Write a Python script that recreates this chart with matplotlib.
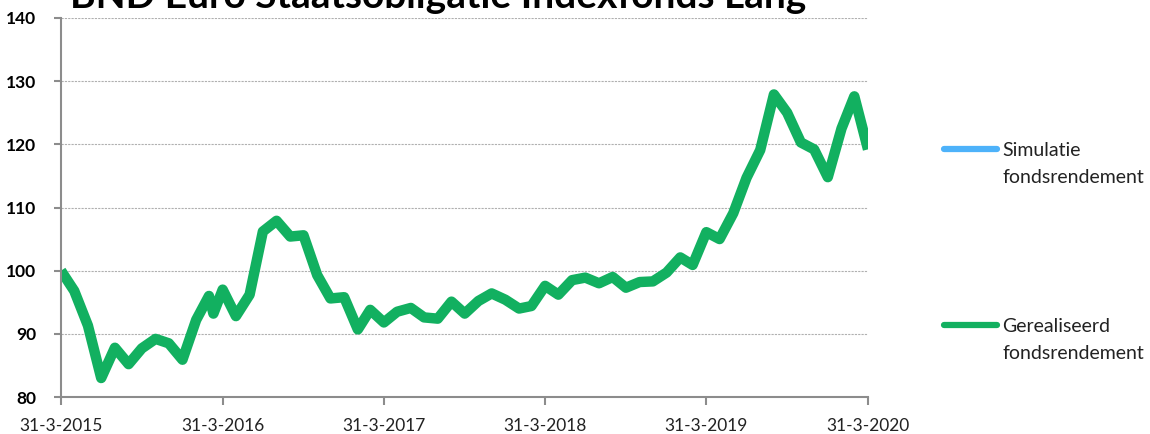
#!/usr/bin/env python3
"""
BND Euro Staatsobligatie Indexfonds Lang - gerealiseerd fondsrendement (index, 31-3-2015 = 100)
"""

import matplotlib
matplotlib.use("Agg")
import matplotlib.pyplot as plt
from matplotlib.lines import Line2D
import pandas as pd

title = "BND Euro Staatsobligatie Indexfonds Lang"

# month-end dates, plus one extra observation in March 2016
dates = list(pd.date_range("2015-03-31", "2020-03-31", freq="ME"))
dates.insert(12, pd.Timestamp("2016-03-10"))

realised = [
    100.0, 96.8, 91.3, 83.0, 87.8, 85.2, 87.7, 89.2, 88.5, 85.9,          # 2015
    92.2, 96.0, 93.2, 97.0, 92.8, 96.2, 106.2, 107.9, 105.4, 105.6,       # 2016
    99.3, 95.6, 95.8,
    90.7, 93.8, 91.8, 93.5, 94.1, 92.6, 92.4, 95.1, 93.2, 95.2, 96.4, 95.4,   # 2017
    94.0, 94.4, 97.6, 96.2, 98.5, 98.9, 98.0, 99.0, 97.3, 98.2, 98.3, 99.7,   # 2018
    102.1, 100.9, 106.1, 105.0, 109.1, 114.7, 119.1, 127.9, 125.0, 120.3,    # 2019
    119.2, 114.8,
    122.5, 127.6, 119.2,                                                  # 2020
]
simulation = []  # no simulated values shown

series_labels = ["Simulatie\nfondsrendement", "Gerealiseerd\nfondsrendement"]
series_colors = ["#4DB2FA", "#12B060"]

x_ticks = ["2015-03-31", "2016-03-31", "2017-03-31", "2018-03-31", "2019-03-31", "2020-03-31"]
x_tick_labels = ["31-3-2015", "31-3-2016", "31-3-2017", "31-3-2018", "31-3-2019", "31-3-2020"]
y_ticks = [80, 90, 100, 110, 120, 130, 140]

plt.rcParams['font.family'] = ['Lato', 'DejaVu Sans']

fig = plt.figure(figsize=(11.5, 4.34), dpi=100)
ax = fig.add_axes([61 / 1150, 37 / 434, 807 / 1150, 379 / 434])

ax.plot(dates[:len(simulation)], simulation, color=series_colors[0], linewidth=7.5)
ax.plot(dates, realised, color=series_colors[1], linewidth=7.5,
        solid_joinstyle='round', solid_capstyle='butt')

ax.set_xlim(pd.Timestamp(x_ticks[0]), pd.Timestamp(x_ticks[-1]))
ax.set_ylim(80, 140)
ax.set_xticks([pd.Timestamp(d) for d in x_ticks])
ax.set_xticklabels(x_tick_labels, fontsize=12.5, color='#222222')
ax.set_yticks(y_ticks)
ax.set_yticklabels([str(v) for v in y_ticks], fontsize=12.5, fontweight='bold')

ax.grid(axis='y', color='#B0B0B0', linestyle=(0, (2, 1)), linewidth=0.8)
ax.set_axisbelow(True)
for side in ['top', 'right']:
    ax.spines[side].set_visible(False)
for side in ['left', 'bottom']:
    ax.spines[side].set_color('#8C8C8C')
    ax.spines[side].set_linewidth(1.5)
ax.tick_params(axis='x', length=6, width=1.5, color='#8C8C8C', pad=9)
ax.tick_params(axis='y', length=5, width=1.5, color='#8C8C8C', pad=13)

# title sits partly above the figure edge, as in the original export
fig.text(438 / 1150, 1 - 8 / 434, title, ha='center', va='baseline',
         fontsize=28, fontweight='bold', color='black')

# legend on the right, handle level with the first text line
legend_y = [149, 325]
for lab, col, yy in zip(series_labels, series_colors, legend_y):
    yf = 1 - yy / 434
    fig.add_artist(Line2D([944 / 1150, 997 / 1150], [yf, yf], color=col,
                          linewidth=4.5, solid_capstyle='round'))
    fig.text(1002 / 1150, yf + 7 / 434, lab, ha='left', va='top',
             fontsize=14, color='#222222', linespacing=1.7)

fig.savefig("out.png", dpi=100)
